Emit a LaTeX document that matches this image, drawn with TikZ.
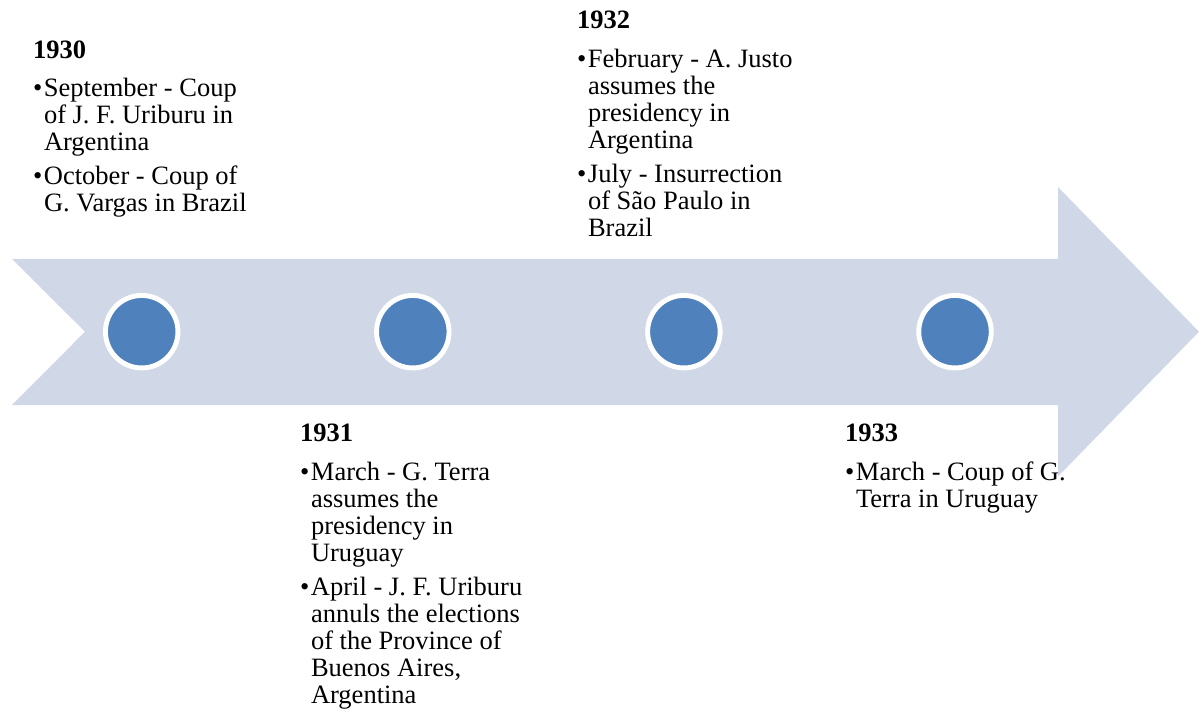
\documentclass[tikz,border=0pt]{standalone}
\usepackage{fontspec}
\setmainfont{Liberation Serif}
\definecolor{arrowfill}{HTML}{D0D8E8}
\definecolor{dotfill}{HTML}{4F81BD}
\newcommand{\bul}{\makebox[11pt][l]{•}}
\newcommand{\ind}{\hspace*{11pt}}
\begin{document}
\begin{tikzpicture}[x=1pt,y=-1pt,
  dot/.style={circle, fill=dotfill, draw=white, line width=4.9pt, minimum size=72.5pt, inner sep=0pt},
  block/.style={anchor=north west, inner sep=0pt, outer sep=0pt, align=left, font=\fontsize{26.5}{27}\selectfont}]
\useasboundingbox (0,0) rectangle (1199,711);
\fill[arrowfill] (12,259) -- (1058,259) -- (1058,187) -- (1199,331.7) -- (1058,476.5) -- (1058,405) -- (12,405) -- (85,331.7) -- cycle;
\node[dot] (c1) at (141.7,331.7) {};
\node[dot] (c2) at (412.8,331.7) {};
\node[dot] (c3) at (683.9,331.7) {};
\node[dot] (c4) at (955,331.7) {};
\node[block] (t1930) at (33,40.4) {{\bfseries 1930}\\[11.5pt]
\bul September - Coup\\
\ind of J. F. Uriburu in\\
\ind Argentina\\[7pt]
\bul October - Coup of\\
\ind G. Vargas in Brazil};
\node[block] (t1932) at (577,11.4) {{\bfseries 1932}\\[11.5pt]
\bul February - A. Justo\\
\ind assumes the\\
\ind presidency in\\
\ind Argentina\\[7pt]
\bul July - Insurrection\\
\ind of São Paulo in\\
\ind Brazil};
\node[block] (t1931) at (300,424.4) {{\bfseries 1931}\\[11.5pt]
\bul March - G. Terra\\
\ind assumes the\\
\ind presidency in\\
\ind Uruguay\\[7pt]
\bul April - J. F. Uriburu\\
\ind annuls the elections\\
\ind of the Province of\\
\ind Buenos Aires,\\
\ind Argentina};
\node[block] (t1933) at (845,424.4) {{\bfseries 1933}\\[11.5pt]
\bul March - Coup of G.\\
\ind Terra in Uruguay};
\end{tikzpicture}
\end{document}
